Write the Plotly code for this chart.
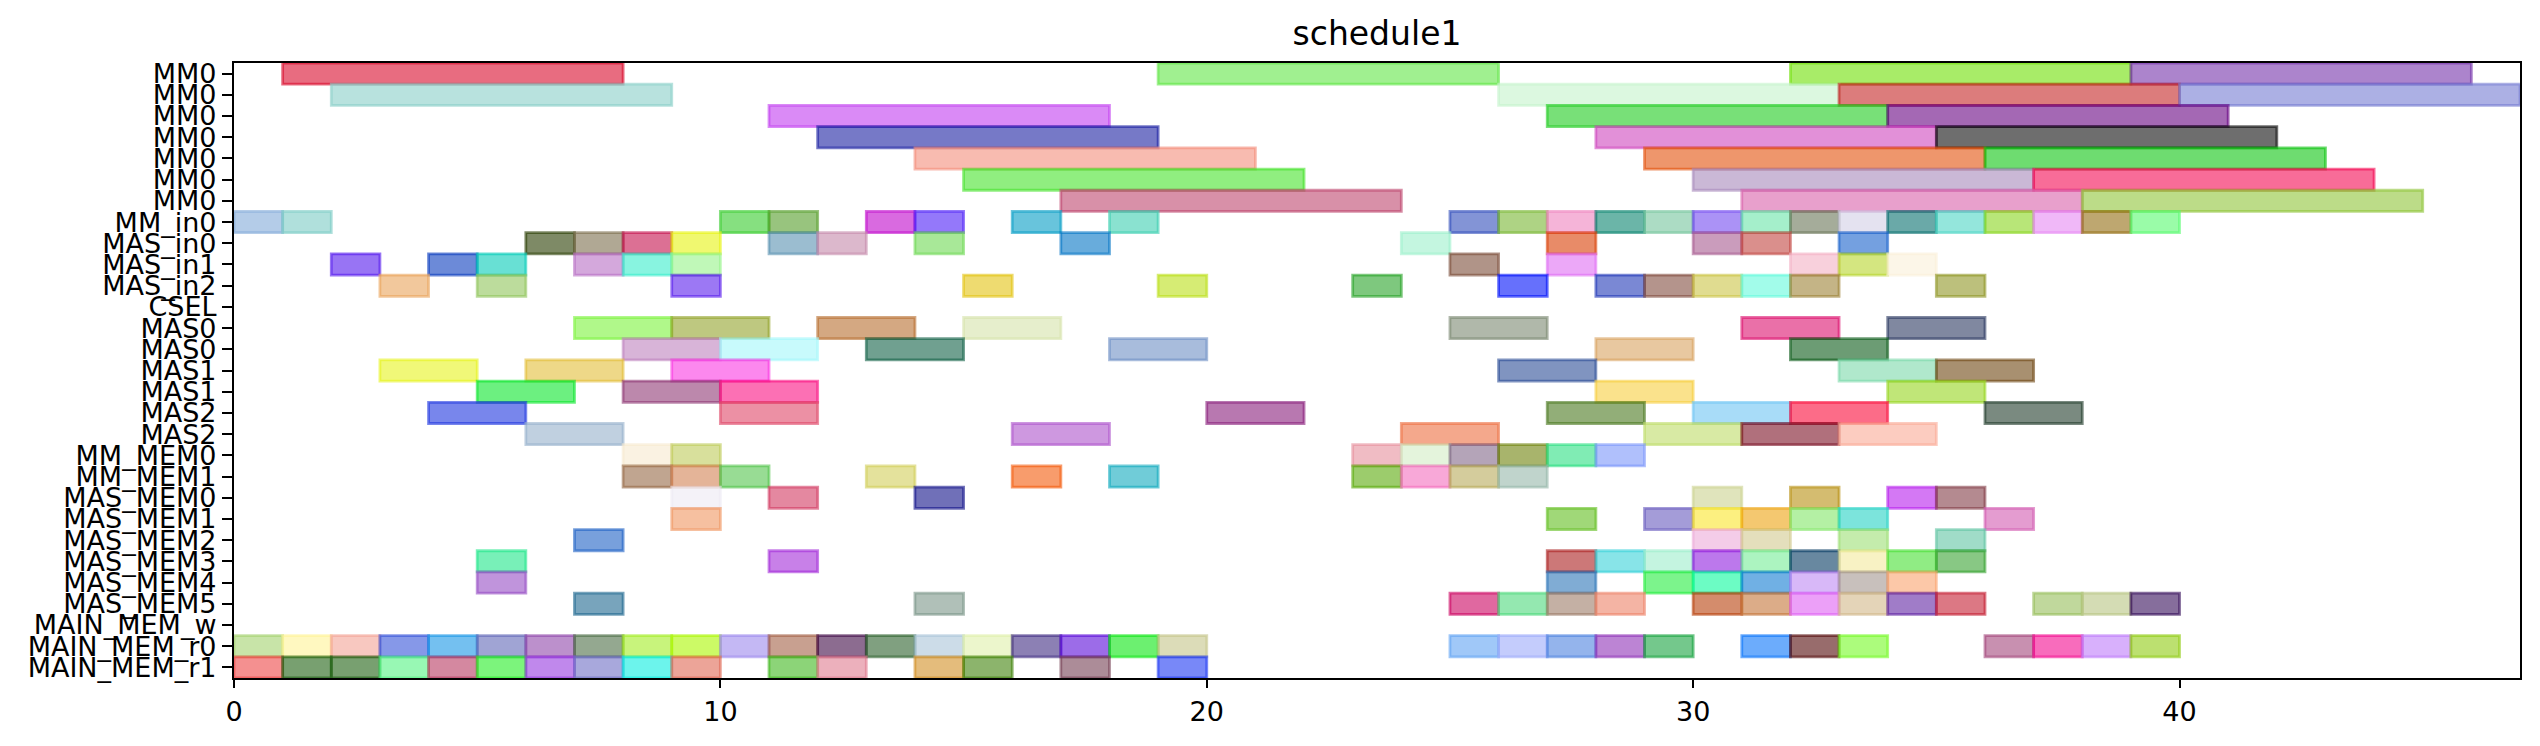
import plotly.graph_objects as go

row_labels = ["MM0", "MM0", "MM0", "MM0", "MM0", "MM0", "MM0", "MM_in0", "MAS_in0",
              "MAS_in1", "MAS_in2", "CSEL", "MAS0", "MAS0", "MAS1", "MAS1", "MAS2", "MAS2",
              "MM_MEM0", "MM_MEM1", "MAS_MEM0", "MAS_MEM1", "MAS_MEM2", "MAS_MEM3",
              "MAS_MEM4", "MAS_MEM5", "MAIN_MEM_w", "MAIN_MEM_r0", "MAIN_MEM_r1"]

# task start / end times per row
task_starts = [
    [1, 19, 32, 39],
    [2, 26, 33, 40],
    [11, 27, 34],
    [12, 28, 35],
    [14, 29, 36],
    [15, 30, 37],
    [17, 31, 38],
    [0, 1, 10, 11, 13, 14, 16, 18, 25, 26, 27, 28, 29, 30, 31, 32, 33, 34, 35, 36, 37, 38, 39],
    [6, 7, 8, 9, 11, 12, 14, 17, 24, 27, 30, 31, 33],
    [2, 4, 5, 7, 8, 9, 25, 27, 32, 33, 34],
    [3, 5, 9, 15, 19, 23, 26, 28, 29, 30, 31, 32, 35],
    [],
    [7, 9, 12, 15, 25, 31, 34],
    [8, 10, 13, 18, 28, 32],
    [3, 6, 9, 26, 33, 35],
    [5, 8, 10, 28, 34],
    [4, 10, 20, 27, 30, 32, 36],
    [6, 16, 24, 29, 31, 33],
    [8, 9, 23, 24, 25, 26, 27, 28],
    [8, 9, 10, 13, 16, 18, 23, 24, 25, 26],
    [9, 11, 14, 30, 32, 34, 35],
    [9, 27, 29, 30, 31, 32, 33, 36],
    [7, 30, 31, 33, 35],
    [5, 11, 27, 28, 29, 30, 31, 32, 33, 34, 35],
    [5, 27, 29, 30, 31, 32, 33, 34],
    [7, 14, 25, 26, 27, 28, 30, 31, 32, 33, 34, 35, 37, 38, 39],
    [],
    [0, 1, 2, 3, 4, 5, 6, 7, 8, 9, 10, 11, 12, 13, 14, 15, 16, 17, 18, 19,
     25, 26, 27, 28, 29, 31, 32, 33, 36, 37, 38, 39],
    [0, 1, 2, 3, 4, 5, 6, 7, 8, 9, 11, 12, 14, 15, 17, 19],
]
task_ends = [
    [8, 26, 39, 46],
    [9, 33, 40, 47],
    [18, 34, 41],
    [19, 35, 42],
    [21, 36, 43],
    [22, 37, 44],
    [24, 38, 45],
    [1, 2, 11, 12, 14, 15, 17, 19, 26, 27, 28, 29, 30, 31, 32, 33, 34, 35, 36, 37, 38, 39, 40],
    [7, 8, 9, 10, 12, 13, 15, 18, 25, 28, 31, 32, 34],
    [3, 5, 6, 8, 9, 10, 26, 28, 33, 34, 35],
    [4, 6, 10, 16, 20, 24, 27, 29, 30, 31, 32, 33, 36],
    [],
    [9, 11, 14, 17, 27, 33, 36],
    [10, 12, 15, 20, 30, 34],
    [5, 8, 11, 28, 35, 37],
    [7, 10, 12, 30, 36],
    [6, 12, 22, 29, 32, 34, 38],
    [8, 18, 26, 31, 33, 35],
    [9, 10, 24, 25, 26, 27, 28, 29],
    [9, 10, 11, 14, 17, 19, 24, 25, 26, 27],
    [10, 12, 15, 31, 33, 35, 36],
    [10, 28, 30, 31, 32, 33, 34, 37],
    [8, 31, 32, 34, 36],
    [6, 12, 28, 29, 30, 31, 32, 33, 34, 35, 36],
    [6, 28, 30, 31, 32, 33, 34, 35],
    [8, 15, 26, 27, 28, 29, 31, 32, 33, 34, 35, 36, 38, 39, 40],
    [],
    [1, 2, 3, 4, 5, 6, 7, 8, 9, 10, 11, 12, 13, 14, 15, 16, 17, 18, 19, 20,
     26, 27, 28, 29, 30, 32, 33, 34, 37, 38, 39, 40],
    [1, 2, 3, 4, 5, 6, 7, 8, 9, 10, 12, 13, 15, 16, 18, 20],
]

# style: apparent (over-white) colour of each task box
task_colors = [
    ["#e86c80", "#a0f090", "#a8ec68", "#ac84cc"],
    ["#b8e2de", "#dcf8e0", "#dc7c7c", "#acb0e4"],
    ["#da8af6", "#78e078", "#a468b4"],
    ["#7679c7", "#e290d8", "#6e6e6e"],
    ["#f8bbb0", "#ee966c", "#6edc70"],
    ["#90ee80", "#cab8d6", "#f86c98"],
    ["#d890a8", "#e8a0cc", "#bcdc88"],
    ["#b4cce8", "#b0e0dc", "#86e080", "#98c47e", "#d96ae0", "#9478fa", "#68c4dc", "#8ae2d0",
     "#8394d6", "#aed384", "#f5b4d8", "#6bb5a8", "#acdcc4", "#ab92f6", "#a5efcb", "#a5ac9a",
     "#e4e2f0", "#6aa9a8", "#94e6dc", "#b8e678", "#f0b8f8", "#bea770", "#9afca8"],
    ["#7e8a66", "#b0a894", "#dc7094", "#f0f870", "#9bbdd0", "#dcb8cc", "#a8e898", "#68acdc",
     "#c4f6e0", "#e88b68", "#ca9cbc", "#da8f8c", "#74a0e0"],
    ["#9874f4", "#6c8ad8", "#68e0d4", "#d4a8dc", "#88f4e0", "#c0f8b8", "#b09488", "#eca8f8",
     "#f8d0dc", "#d4e680", "#fcf6e8"],
    ["#f2c89c", "#bcdc9c", "#9c78f4", "#eedb70", "#d6ec74", "#7ec87e", "#6670fc", "#7a88d4",
     "#b4948c", "#e0dc90", "#a2fcea", "#c4b486", "#bcc07c"],
    [],
    ["#b0f88a", "#bec880", "#d4a882", "#e6eecc", "#b0b8aa", "#ea70a8", "#8088a0"],
    ["#d8b4d8", "#c8fafc", "#70a090", "#a8bcdc", "#e8c8a0", "#6c9c74"],
    ["#f0f878", "#eed888", "#fc88ee", "#8094c0", "#b0e8cc", "#a89070"],
    ["#6cf080", "#bc88ac", "#fc70b4", "#fae28c", "#c0e678"],
    ["#7886ec", "#ec90a4", "#b878b0", "#92ae78", "#a8dcf8", "#fc6c88", "#7a8a80"],
    ["#c0d0e0", "#ce98e0", "#f4a88c", "#d8eaa4", "#b0707c", "#fcccc0"],
    ["#faf2e2", "#d8e09c", "#f0bcc4", "#e4f4dc", "#b4a4b8", "#a8b46c", "#80ecb4", "#b0c0fc"],
    ["#c0a590", "#e4b498", "#98dc94", "#e4e29c", "#f89c6c", "#70ccd8", "#9ccc6c", "#f8a8d8",
     "#d4cc9c", "#c0d4cc"],
    ["#f4f2f8", "#e488a0", "#7070b8", "#e0e4bc", "#d4bc70", "#d478f4", "#b48a90"],
    ["#f6c0a0", "#a0d878", "#a49cd8", "#fcf080", "#f4c870", "#b4f0a4", "#7ce4dc", "#e49cd0"],
    ["#78a0dc", "#f4cce8", "#e4dfbc", "#c4ecac", "#a0dcc8"],
    ["#78f0b8", "#c880e8", "#cc7878", "#88e4e8", "#c4f4e0", "#bc78ec", "#acf4c0", "#6888a0",
     "#f8f2c4", "#90ec84", "#88c884"],
    ["#c094dc", "#80acd4", "#7cf48c", "#6cfcc4", "#70b0e4", "#d8b8f8", "#c8c0bc", "#fcc8a8"],
    ["#78a4bc", "#b0c0b8", "#e068a0", "#94e8b0", "#c4b0a4", "#f4b4a4", "#d48c6c", "#dcac88",
     "#eca0f8", "#e4d4b8", "#a07cc8", "#dc7884", "#c0d89c", "#d4dcb4", "#866e9c"],
    [],
    ["#c8e4a8", "#fff8c0", "#f8c8c0", "#8698e8", "#74c0f0", "#a0a4d4", "#bc90cc", "#94a890",
     "#c8f47c", "#ccfa60", "#c4b8f4", "#c8a090", "#8c6c90", "#80a080", "#ccdce8", "#ecf6cc",
     "#8c80b4", "#9c6ce8", "#6cf070", "#dcdcb8", "#a0c8f8", "#c4ccfc", "#94b4ec", "#bc84d4",
     "#74c88c", "#6cacfc", "#986c6c", "#acfc7c", "#c890b0", "#f86cbc", "#d8b0fc", "#bce070"],
    ["#f49090", "#78a070", "#78a070", "#98f8b4", "#d488a0", "#7cf47c", "#c088ec", "#a8a8dc",
     "#6cf4ec", "#eca498", "#8cd478", "#ecb0bc", "#e4bc7c", "#8cb46c", "#ac8c98", "#7888f8"],
]

ALPHA = 0.6


def base_rgba(hexcol):
    h = hexcol.lstrip("#")
    comp = [int(h[i:i + 2], 16) for i in (0, 2, 4)]
    base = [max(0, min(255, round((c - (1 - ALPHA) * 255) / ALPHA))) for c in comp]
    return "rgba(%d,%d,%d,%.2f)" % (base[0], base[1], base[2], ALPHA)


ys, bases, lens, cols = [], [], [], []
for r, (ss, ee, cc) in enumerate(zip(task_starts, task_ends, task_colors)):
    for s, e, c in zip(ss, ee, cc):
        ys.append(r)
        bases.append(s)
        lens.append(e - s)
        cols.append(base_rgba(c))

fig = go.Figure()
fig.add_trace(go.Bar(
    orientation="h", y=ys, x=lens, base=bases, width=1.0,
    marker=dict(color=cols, line=dict(color=cols, width=2.8)),
    showlegend=False,
))

font = "DejaVu Sans"
W, H = 2532, 738  # page body adds an 8px offset
fig.update_layout(
    width=W, height=H,
    margin=dict(l=226, r=20, t=55, b=68, autoexpand=False),
    paper_bgcolor="white", plot_bgcolor="white",
    barmode="overlay",
    title=dict(text="schedule1", x=0.5, xref="paper", xanchor="center",
               y=1 - 25 / H, yref="container", yanchor="middle",
               font=dict(family=font, size=33, color="black")),
    font=dict(family=font, color="black"),
)
fig.update_xaxes(range=[0, 47], tickvals=[0, 10, 20, 30, 40], showgrid=False, zeroline=False,
                 showline=True, linecolor="black", linewidth=2.2, mirror=True,
                 ticks="outside", ticklen=8, tickwidth=2.2, tickcolor="black",
                 tickfont=dict(family=font, size=27, color="black"))
fig.update_yaxes(range=[len(row_labels) - 0.5, -0.5], tickvals=list(range(len(row_labels))),
                 ticktext=row_labels, showgrid=False, zeroline=False,
                 showline=True, linecolor="black", linewidth=2.2, mirror=True,
                 ticks="outside", ticklen=10, tickwidth=2.2, tickcolor="black",
                 tickfont=dict(family=font, size=27, color="black"))

fig.write_html("out.html")
